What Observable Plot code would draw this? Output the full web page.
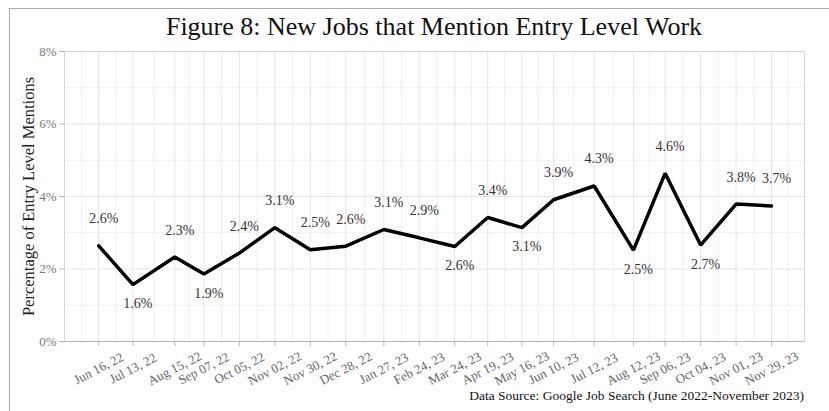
<!DOCTYPE html>
<html>
<head>
<meta charset="utf-8">
<script src="https://cdn.jsdelivr.net/npm/d3@7"></script>
<script src="https://cdn.jsdelivr.net/npm/@observablehq/plot@0.6"></script>
<style>
  html, body { margin: 0; padding: 0; background: #fff; overflow: hidden; }
  #wrap { position: relative; width: 829px; height: 411px; overflow: hidden; font-family: "Liberation Serif", "DejaVu Serif", serif; }
  #border { position: absolute; left: 9px; top: 8px; width: 900px; height: 500px; border: 1.5px solid #ababab; box-sizing: border-box; }
  #title { position: absolute; left: 64px; width: 740px; top: 12px; text-align: center; font-size: 26px; line-height: 30px; color: #111; }
  #chart { position: absolute; left: 0; top: 45px; }
  #caption { position: absolute; right: 25px; top: 388px; font-size: 13.5px; line-height: 16px; color: #111; white-space: nowrap; }
</style>
</head>
<body>
<div id="wrap">
  <div id="border"></div>
  <div id="title">Figure 8: New Jobs that Mention Entry Level Work</div>
  <div id="chart"></div>
  <div id="caption">Data Source: Google Job Search (June 2022-November 2023)</div>
</div>
<script>
// ---- data ----
const dates = ["2022-06-16","2022-07-13","2022-08-15","2022-09-07","2022-10-05","2022-11-02","2022-11-30","2022-12-28","2023-01-27","2023-02-24","2023-03-24","2023-04-19","2023-05-16","2023-06-10","2023-07-12","2023-08-12","2023-09-06","2023-10-04","2023-11-01","2023-11-29"];
const values = [2.64, 1.57, 2.33, 1.86, 2.44, 3.14, 2.53, 2.63, 3.09, 2.86, 2.62, 3.42, 3.14, 3.91, 4.29, 2.52, 4.64, 2.66, 3.79, 3.74];
const labelsBelow = ["2022-07-13","2022-09-07","2023-03-24","2023-05-16","2023-08-12","2023-10-04"];
const yTicks = [0, 2, 4, 6, 8];
const yMinorTicks = [1, 3, 5, 7];
const xDomain = ["2022-05-20", "2023-12-25"];

// ---- build ----
const parse = d3.utcParse("%Y-%m-%d");
const data = dates.map((d, i) => ({date: parse(d), value: values[i], below: labelsBelow.includes(d)}));
const dateObjs = data.map(d => d.date);
const dom = xDomain.map(parse);
const bounds = [dom[0], ...dateObjs, dom[1]];
const minorX = d3.pairs(bounds).map(([a, b]) => new Date((+a + +b) / 2));
const fmtDate = d3.utcFormat("%b %d, %y");
const fmtPct = v => d3.format(".1f")(v) + "%";

const plot = Plot.plot({
  width: 829,
  height: 340,
  marginTop: 6,
  marginBottom: 44,
  marginLeft: 64,
  marginRight: 25,
  style: {fontFamily: "'Liberation Serif', 'DejaVu Serif', serif", fontSize: "13px", background: "transparent", overflow: "visible"},
  x: {type: "utc", domain: dom},
  y: {domain: [0, 8]},
  marks: [
    Plot.gridY(yMinorTicks, {stroke: "#eeeeee", strokeOpacity: 1}),
    Plot.gridX(minorX, {stroke: "#eeeeee", strokeOpacity: 1}),
    Plot.gridY(yTicks, {stroke: "#e4e4e4", strokeOpacity: 1}),
    Plot.gridX(dateObjs, {stroke: "#e4e4e4", strokeOpacity: 1}),
    Plot.frame({stroke: "#d4d4d4"}),
    Plot.ruleY([0], {stroke: "#b4b4b4"}),
    Plot.axisY({ticks: yTicks, tickFormat: d => d + "%", tickSize: 5, tickPadding: 3, stroke: "#b4b4b4", fill: "#777", fontSize: 13, label: null}),
    Plot.axisX({ticks: dateObjs, tickFormat: () => "", tickSize: 5, stroke: "#b4b4b4", label: null}),
    Plot.text(dateObjs, {x: d => d, frameAnchor: "bottom", textAnchor: "middle", lineAnchor: "middle", dy: 27, rotate: -27, text: d => fmtDate(d), fill: "#666", fontSize: 13}),
    Plot.text(["Percentage of Entry Level Mentions"], {frameAnchor: "left", textAnchor: "middle", lineAnchor: "middle", dx: -36, rotate: -90, text: d => d, fill: "#222", fontSize: 16.5}),
    Plot.line(data, {x: "date", y: "value", stroke: "#000", strokeWidth: 3.5, strokeLinejoin: "miter"}),
    Plot.text(data.filter(d => !d.below), {x: "date", y: "value", text: d => fmtPct(d.value), dy: -27, dx: 5, fill: "#333", fontSize: 14}),
    Plot.text(data.filter(d => d.below), {x: "date", y: "value", text: d => fmtPct(d.value), dy: 19, dx: 5, fill: "#333", fontSize: 14})
  ]
});
document.getElementById("chart").appendChild(plot);
</script>
</body>
</html>
